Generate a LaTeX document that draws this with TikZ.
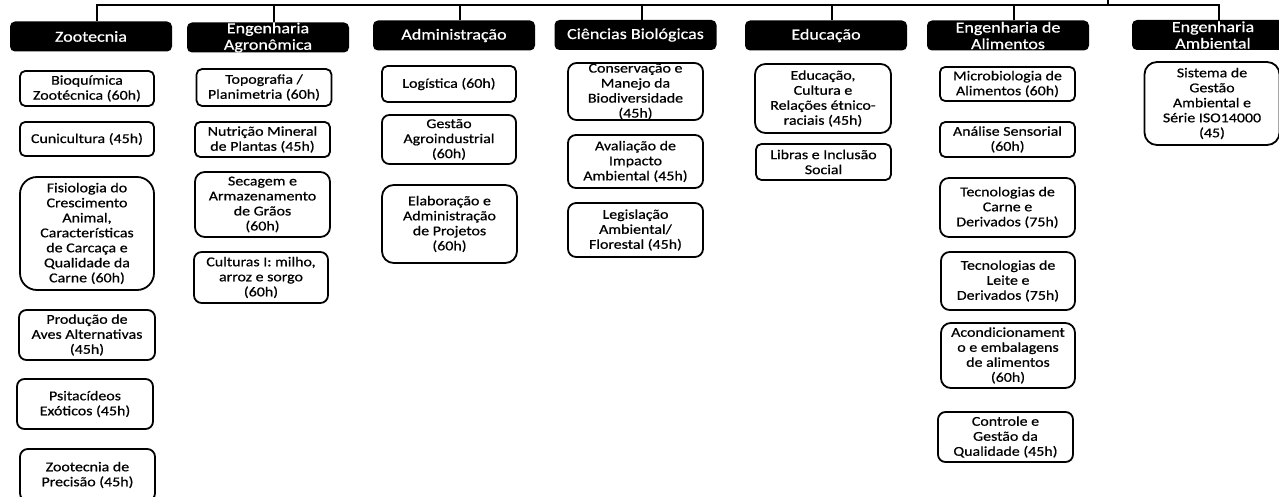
\documentclass[tikz,border=0pt]{standalone}
\usepackage{fontspec}
\setmainfont{Carlito}[FakeStretch=1.18,FakeBold=0.6]
\begin{document}
\begin{tikzpicture}[x=1pt,y=-1pt,
        curso/.style={fill=black, text=white, rounded corners=5pt, minimum width=162pt,
            minimum height=30pt, inner sep=0pt, align=center, font=\fontsize{15.3}{16.5}\selectfont},
        disc/.style={draw=black, line width=1.8pt, fill=white, inner sep=0pt, align=center,
            font=\fontsize{13.5}{15}\selectfont}]
    \useasboundingbox (0,0) rectangle (1279,497);
    \coordinate (raiz) at (1108,0);
    \coordinate (bus) at (1108,5);
    % cursos
    \foreach \n/\x/\y/\txt in {zoot/91/36.5/{Zootecnia}, agro/268/37.5/{Engenharia\\Agronômica},
            adm/454/35.5/{Administração}, bio/635.5/35/{Ciências Biológicas},
            edu/826/35.5/{Educação}, alim/1008/35.5/{Engenharia de\\Alimentos},
            amb/1213/35/{Engenharia\\Ambiental}}{
        \node[curso] (\n) at (\x,\y) {\txt};
        \draw[line width=2pt] ([xshift=6pt]\n.north) |- (bus);}
    \draw[line width=2pt] (raiz) -- (bus);
    % disciplinas
    \foreach \n/\x/\y/\w/\h/\txt in {
            bioq/87/88.5/134/35/{Bioquímica\\Zootécnica (60h)},
            cuni/87/139/134/34/{Cunicultura (45h)},
            fisio/87/233.5/134/113/{Fisiologia do\\Crescimento\\Animal,\\Características\\de Carcaça e\\Qualidade da\\Carne (60h)},
            aves/87/335/136/50/{Produção de\\Aves Alternativas\\(45h)},
            psit/85/404/136/50/{Psitacídeos\\Exóticos (45h)},
            prec/87.5/475/135/52/{Zootecnia de\\Precisão (45h)},
            topog/264/87.5/135/37/{Topografia /\\Planimetria (60h)},
            nutr/262.5/139.5/135/35/{Nutrição Mineral\\de Plantas (45h)},
            seca/262.5/204.5/135/65/{Secagem e\\Armazenamento\\de Grãos\\(60h)},
            cult/261/277.5/134/51/{Culturas I: milho,\\arroz e sorgo\\(60h)},
            logi/449/84/134/36/{Logística (60h)},
            gest/449/139.5/134/49/{Gestão\\Agroindustrial\\(60h)},
            elab/449.5/224/135/78/{Elaboração e\\Administração\\de Projetos\\(60h)},
            cons/635.5/91.5/135/57/{Conservação e\\Manejo da\\Biodiversidade\\(45h)},
            aval/635.5/161.5/135/53/{Avaliação de\\Impacto\\Ambiental (45h)},
            legis/635.5/230/135/54/{Legislação\\Ambiental/\\Florestal (45h)},
            educ/823/98.5/136/69/{Educação,\\Cultura e\\Relações étnico-\\raciais (45h)},
            libr/823.5/162/135/36/{Libras e Inclusão\\Social},
            micro/1007.5/84/135/34/{Microbiologia de\\Alimentos (60h)},
            anal/1007.5/139.5/135/35/{Análise Sensorial\\(60h)},
            carne/1007.5/207.5/135/59/{Tecnologias de\\Carne e\\Derivados (75h)},
            leite/1008/281/134/58/{Tecnologias de\\Leite e\\Derivados (75h)},
            acond/1008/355.5/134/65/{Acondicionament\\o e embalagens\\de alimentos\\(60h)},
            contr/1005.5/437/135/50/{Controle e\\Gestão da\\Qualidade (45h)},
            sga/1212/103.5/135/83/{Sistema de\\Gestão\\Ambiental e\\Série ISO14000\\(45)}}{
        \pgfmathsetmacro\r{0.15*min(\w,\h)}
        \node[disc, minimum width=\w pt, minimum height=\h pt, rounded corners=\r pt] (\n) at (\x,\y) {\txt};}
\end{tikzpicture}
\end{document}
